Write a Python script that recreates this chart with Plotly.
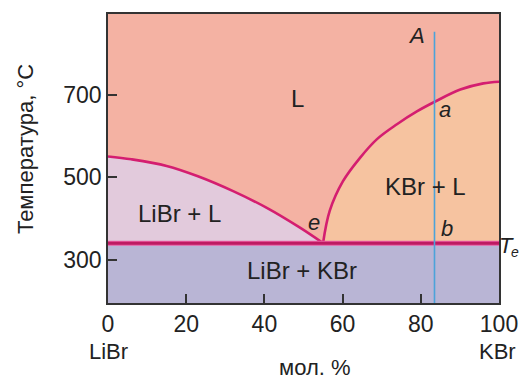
import plotly.graph_objects as go

# ---- data ----
x_ticks = [0, 20, 40, 60, 80, 100]
x_ticktext = ["0", "20", "40", "60", "80", "100"]
y_ticks = [300, 500, 700]

libr_liq_x = [0, 6, 15, 23, 32, 40.5, 49, 55]
libr_liq_T = [550, 543, 527, 502, 466, 426, 378, 340]

kbr_liq_x = [55, 56.7, 60.1, 64.4, 68.8, 73.9, 79.0, 83.7, 90.1, 96.0, 100]
kbr_liq_T = [340, 418, 490, 546, 592, 628, 659, 683, 712, 727, 731]

T_eut = 340
eut_x = [0, 100]
eut_T = [T_eut, T_eut]

iso_x = [83.5, 83.5]
iso_T = [852, 195]

x_range = [0, 100]
y_range = [195, 895]

region_labels = ["L", "LiBr + L", "KBr + L", "LiBr + KBr"]
region_x = [48.5, 18.3, 81.1, 49.6]
region_T = [690, 411, 478, 273]

point_labels = ["e", "a", "b", "A"]
point_x = [52.6, 86.3, 86.7, 79.0]
point_T = [389, 664, 375, 843]

component_labels = ["LiBr", "KBr"]
x_title = "мол. %"
y_title = "Температура, °C"

# ---- style ----
C_L = "#F4B2A3"
C_LIBR_L = "#E2CADC"
C_KBR_L = "#F6C3A0"
C_SOLID = "#B9B5D5"
C_LINE = "#D41E70"
C_BLUE = "#4BA3DA"
FONT = "Liberation Sans, Arial, sans-serif"
TXT = "#222222"

# page offset (default body margin) and plot-area box in window pixels
OFF = 8
W, H = 529, 379
PL, PR, PT, PB = 108, 499, 12, 303


def paper(wx, wy):
    return (wx - PL) / (PR - PL), (PB - wy) / (PB - PT)


fig = go.Figure()

fig.add_trace(go.Scatter(x=libr_liq_x, y=libr_liq_T, mode="lines",
                         line=dict(shape="spline", width=0, color=C_LIBR_L),
                         fill="tozeroy", fillcolor=C_LIBR_L, hoverinfo="skip"))
fig.add_trace(go.Scatter(x=kbr_liq_x, y=kbr_liq_T, mode="lines",
                         line=dict(shape="spline", width=0, color=C_KBR_L),
                         fill="tozeroy", fillcolor=C_KBR_L, hoverinfo="skip"))
fig.add_trace(go.Scatter(x=eut_x, y=eut_T, mode="lines",
                         line=dict(width=0, color=C_SOLID),
                         fill="tozeroy", fillcolor=C_SOLID, hoverinfo="skip"))

fig.add_trace(go.Scatter(x=libr_liq_x, y=libr_liq_T, mode="lines",
                         line=dict(shape="spline", width=2.6, color=C_LINE), hoverinfo="skip"))
fig.add_trace(go.Scatter(x=kbr_liq_x, y=kbr_liq_T, mode="lines",
                         line=dict(shape="spline", width=2.6, color=C_LINE), hoverinfo="skip"))
fig.add_trace(go.Scatter(x=eut_x, y=eut_T, mode="lines",
                         line=dict(width=5, color="#EC5FA4"), hoverinfo="skip"))
fig.add_trace(go.Scatter(x=eut_x, y=eut_T, mode="lines",
                         line=dict(width=3, color="#BE1A62"), hoverinfo="skip"))
fig.add_trace(go.Scatter(x=iso_x, y=iso_T, mode="lines",
                         line=dict(width=1.6, color=C_BLUE), hoverinfo="skip"))

annotations = []
for t, x, y in zip(region_labels, region_x, region_T):
    annotations.append(dict(x=x, y=y, xref="x", yref="y", text=t, showarrow=False,
                            xanchor="center", yanchor="middle",
                            font=dict(family=FONT, size=24, color=TXT)))
for t, x, y in zip(point_labels, point_x, point_T):
    annotations.append(dict(x=x, y=y, xref="x", yref="y", text="<i>" + t + "</i>",
                            showarrow=False, xanchor="center", yanchor="middle",
                            font=dict(family=FONT, size=22, color=TXT)))

# T_e label, drawn as letter + separate small subscript
for t, wx, wy, sz in [("T", 507, 245, 22), ("e", 515, 252, 14)]:
    px, py = paper(wx, wy)
    annotations.append(dict(x=px, y=py, xref="paper", yref="paper",
                            text="<i>" + t + "</i>", showarrow=False,
                            xanchor="center", yanchor="middle",
                            font=dict(family=FONT, size=sz, color=TXT)))

for t, wx, wy in [(component_labels[0], 108, 352), (component_labels[1], 497, 352),
                  (x_title, 315, 368)]:
    px, py = paper(wx, wy)
    annotations.append(dict(x=px, y=py, xref="paper", yref="paper", text=t,
                            showarrow=False, xanchor="center", yanchor="middle",
                            font=dict(family=FONT, size=22, color=TXT)))
px, py = paper(25, 148)
annotations.append(dict(x=px, y=py, xref="paper", yref="paper", text=y_title,
                        textangle=-90, showarrow=False, xanchor="center", yanchor="middle",
                        font=dict(family=FONT, size=22, color=TXT)))

axis_common = dict(ticks="inside", ticklen=9, tickwidth=1.5, tickcolor="#333333",
                   showgrid=False, zeroline=False, showline=True, mirror=True,
                   linecolor="#333333", linewidth=1.5,
                   tickfont=dict(family=FONT, size=23, color=TXT))

fig.update_layout(
    width=W - OFF, height=H - OFF,
    margin=dict(l=PL - OFF, r=W - PR, t=PT - OFF, b=H - PB),
    paper_bgcolor="white", plot_bgcolor=C_L,
    showlegend=False,
    font=dict(family=FONT, size=21, color=TXT),
    xaxis=dict(range=x_range, tickvals=x_ticks, ticktext=x_ticktext, **axis_common),
    yaxis=dict(range=y_range, tickvals=y_ticks, **axis_common),
    annotations=annotations,
)

fig.write_html("out.html")
